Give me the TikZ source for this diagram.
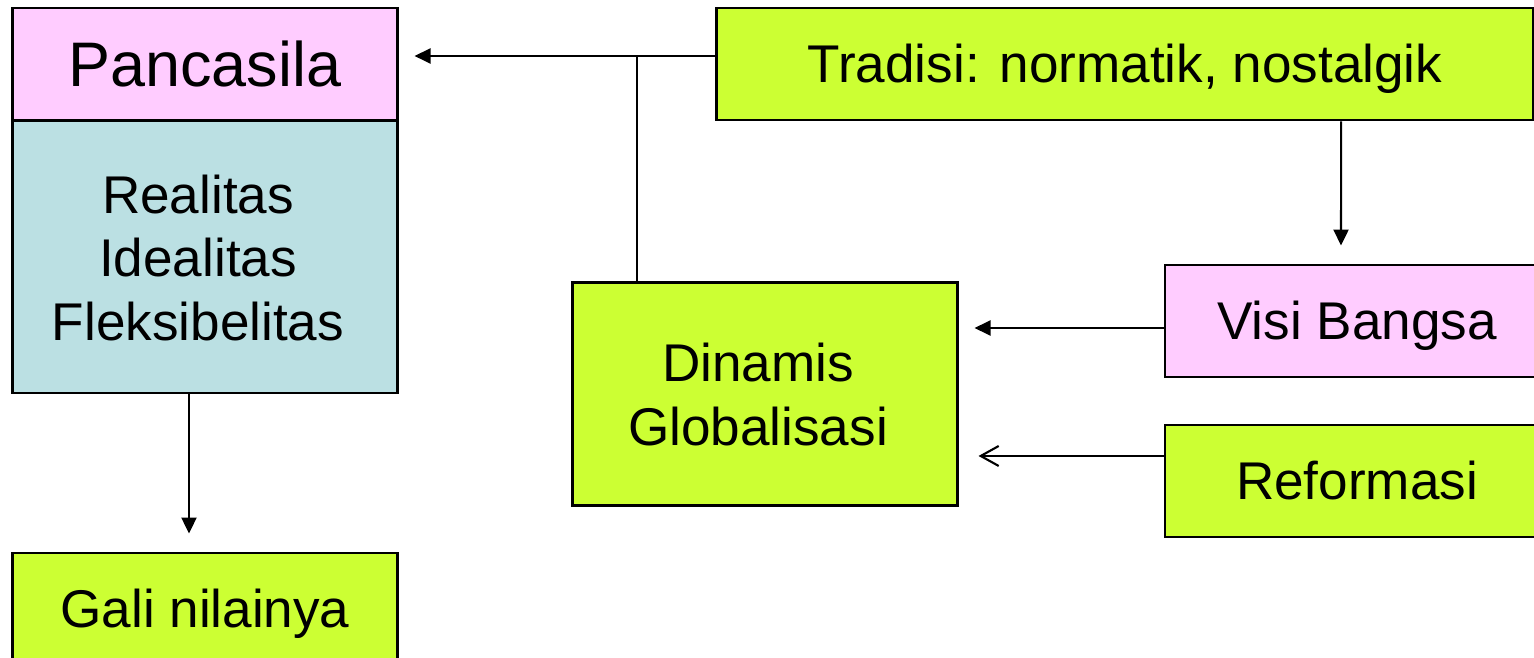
\documentclass[tikz,border=0pt]{standalone}
\usepackage{fontspec}
\setmainfont{Liberation Sans}
\usetikzlibrary{arrows.meta,positioning,calc}
\definecolor{pinkbox}{HTML}{FFCCFF}
\definecolor{bluebox}{HTML}{BBE0E3}
\definecolor{greenbox}{HTML}{CCFF33}
\newcommand{\stack}[1]{\raisebox{-0.07cm}[\height][\depth]{\begin{tabular}{@{}c@{\hspace{0.14cm}}}#1\end{tabular}}}

\begin{document}
\begin{tikzpicture}[x=0.01cm, y=-0.01cm,
    box/.style={draw=black, line width=0.8pt, rectangle, align=center,
        minimum width=3.84cm, minimum height=1.12cm, inner sep=0pt,
        font=\fontsize{15.1}{18.1}\selectfont},
    oneline/.style={text height=10.8pt, text depth=0pt},
    solidarrow/.style={line width=0.6pt, -{Triangle[length=0.16cm,width=0.15cm]}},
    openarrow/.style={line width=0.6pt, -{Straight Barb[length=0.18cm,width=0.2cm]}}]
    \useasboundingbox (0,0) rectangle (1534,658);
    \clip (0,0) rectangle (1534,658);

    % Left column
    \node[box, oneline, text height=12.8pt, fill=pinkbox, font=\fontsize{17.9}{21.5}\selectfont] (pancasila) at (205,64) {Pancasila};
    \node[box, fill=bluebox, minimum height=2.72cm] (ideal) at (205,257) {\stack{Realitas\\Idealitas\\Fleksibelitas}};
    \node[box, oneline, fill=greenbox] (gali) at (205,609) {Gali nilainya};

    % Middle and right
    \node[box, oneline, fill=greenbox, minimum width=8.16cm] (tradisi) at (1125,64) {Tradisi: normatik, nostalgik};
    \node[box, fill=greenbox, minimum height=2.23cm] (dinamis) at (765,394) {\stack{Dinamis\\Globalisasi}};
    \node[box, oneline, fill=pinkbox] (visi) at (1357,321) {Visi Bangsa};
    \node[box, oneline, fill=greenbox] (reformasi) at (1357,481) {Reformasi};

    % Connectors
    \coordinate (split) at (637,56);
    \coordinate (visiout) at ([yshift=-0.07cm]visi.west);
    \coordinate (reformout) at ([yshift=0.25cm]reformasi.west);
    \draw[solidarrow] ([yshift=0.08cm]tradisi.west) -- ([xshift=0.16cm,yshift=0.08cm]pancasila.east);
    \draw[line width=0.6pt] (split) -- (split |- dinamis.north);
    \draw[solidarrow] ([xshift=2.16cm]tradisi.south) -- ([xshift=-0.16cm,yshift=0.18cm]visi.north);
    \draw[solidarrow] (visiout) -- ($(dinamis.east |- visiout)+(16,0)$);
    \draw[openarrow] (reformout) -- ($(dinamis.east |- reformout)+(20,0)$);
    \draw[solidarrow] ([xshift=-0.16cm]ideal.south) -- ([xshift=-0.16cm,yshift=0.18cm]gali.north);
\end{tikzpicture}
\end{document}
